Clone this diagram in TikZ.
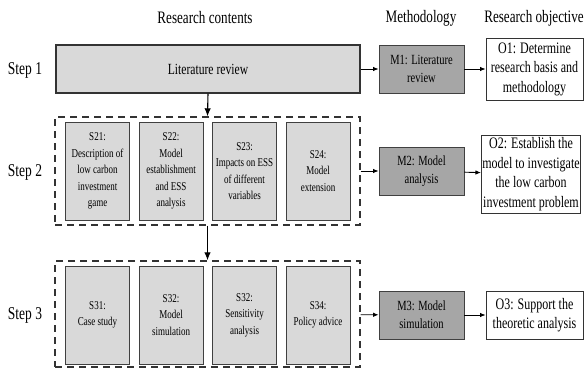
\documentclass[tikz,border=0pt]{standalone}
\usepackage{fontspec}
\setmainfont{Liberation Serif}[FakeStretch=0.75]
\usetikzlibrary{arrows.meta,positioning}

\begin{document}
\begin{tikzpicture}[x=1pt,y=-1pt,
    head/.style={font=\fontsize{17.5}{20}\selectfont},
    steplab/.style={font=\fontsize{18}{20}\selectfont},
    sbox/.style={draw=black!75,fill=black!15,line width=0.8pt,minimum width=64pt,minimum height=98pt,align=center,inner sep=1pt,font=\fontsize{12}{16.5}\selectfont},
    mbox/.style={draw=black!75,fill=black!35,line width=0.8pt,minimum width=85pt,minimum height=48pt,align=center,inner sep=1pt,font=\fontsize{14}{18}\selectfont},
    obox/.style={draw=black!80,fill=white,line width=0.8pt,align=center,inner sep=1pt,font=\fontsize{16}{19.5}\selectfont},
    group/.style={draw=black!80,dash pattern=on 7pt off 5pt,line width=1.4pt,minimum width=305pt},
    arr/.style={-{Latex[length=5.5pt,width=4.5pt]},line width=0.9pt},
    downarr/.style={-{Latex[length=8pt,width=6.5pt]},line width=1.1pt}]
    \useasboundingbox (0,0) rectangle (586,369);

    % column headings
    \node[head] (hcont) at (205,18) {Research contents};
    \node[head] (hmeth) at (421,18) {Methodology};
    \node[head] (hobj) at (534,18) {Research objective};

    % steps
    \node[steplab] (step1) at (25,70) {Step 1};
    \node[steplab] (step2) at (25,172) {Step 2};
    \node[steplab] (step3) at (25,315) {Step 3};

    % step 1
    \node[draw=black!80,fill=black!15,line width=1.1pt,minimum width=304pt,minimum height=48pt,font=\fontsize{15.5}{18}\selectfont] (lit) at (208,69) {Literature review};
    \node[mbox] (m1) at (421.5,69) {M1: Literature\\review};
    \node[obox,minimum width=97pt,minimum height=62pt] (o1) at (534.5,69) {O1: Determine\\research basis and\\methodology};

    % step 2
    \node[group,minimum height=108pt] (grp2) at (207.5,171) {};
    \node[sbox] (s21) at (97.5,171) {S21:\\Description of\\low carbon\\investment\\game};
    \node[sbox] (s22) at (171,171) {S22:\\Model\\establishment\\and ESS\\analysis};
    \node[sbox] (s23) at (244.5,171) {S23:\\Impacts on ESS\\of different\\variables};
    \node[sbox] (s24) at (318,171) {S24:\\Model\\extension};
    \node[mbox] (m2) at (421.5,171) {M2: Model\\analysis};
    \node[obox,minimum width=92pt,minimum height=78pt] (o2) at (531,174) {O2: Establish the\\model to investigate\\the low carbon\\investment problem};

    % step 3
    \node[group,minimum height=106pt] (grp3) at (207.5,314) {};
    \node[sbox] (s31) at (97.5,315) {S31:\\Case study};
    \node[sbox] (s32) at (171,315) {S32:\\Model\\simulation};
    \node[sbox] (s33) at (244.5,315) {S32:\\Sensitivity\\analysis};
    \node[sbox] (s34) at (318,315) {S34:\\Policy advice};
    \node[mbox] (m3) at (421.5,315) {M3: Model\\simulation};
    \node[obox,minimum width=97pt,minimum height=48pt] (o3) at (534.5,315) {O3: Support the\\theoretic analysis};

    % connectors
    \draw[arr] (lit) -- (m1);
    \draw[arr] (m1) -- (o1);
    \draw[downarr] (lit.south) -- (grp2.north);
    \draw[arr] (grp2) -- (m2);
    \draw[arr] (m2) -- (o2);
    \draw[downarr] (grp2.south) -- (grp3.north);
    \draw[arr] (grp3) -- (m3);
    \draw[arr] (m3) -- (o3);
\end{tikzpicture}
\end{document}
